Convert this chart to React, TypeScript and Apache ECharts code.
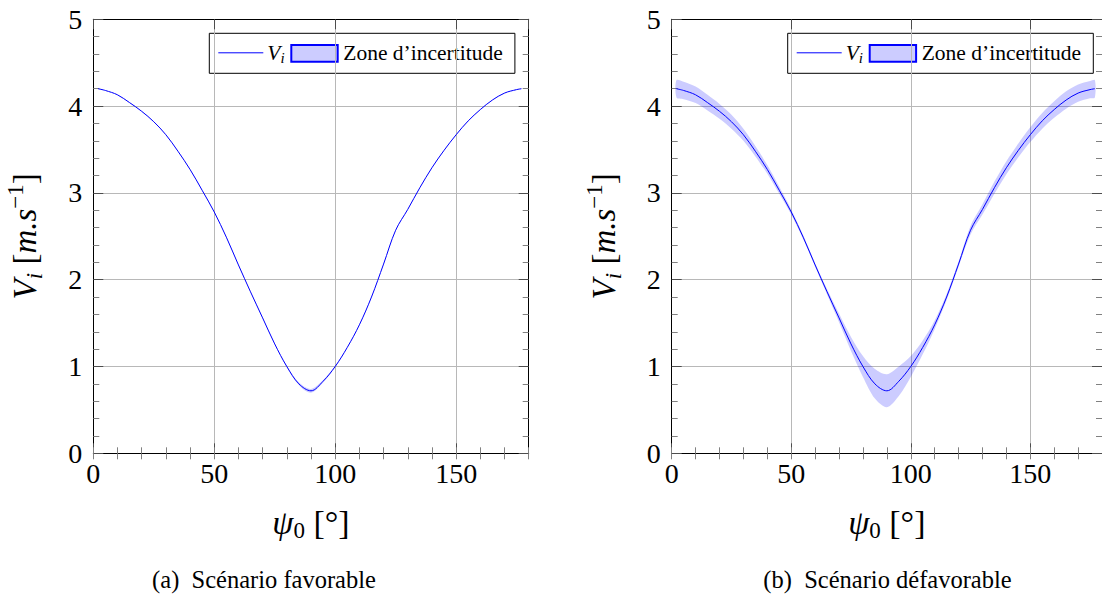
import React, { useEffect, useRef } from 'react';
import * as echarts from 'echarts';

// ψ0 [°] sample positions
const psi = [2, 5, 10, 15, 20, 25, 30, 35, 40, 45, 50, 55, 60, 65, 70, 75, 80, 85, 90, 95, 100, 105, 110, 115, 120, 125, 130, 135, 140, 145, 150, 155, 160, 165, 170, 175, 177];
// V_i [m.s^-1]
const vi = [4.2, 4.18, 4.13, 4.04, 3.94, 3.82, 3.67, 3.48, 3.27, 3.03, 2.78, 2.49, 2.17, 1.86, 1.56, 1.26, 1.0, 0.8, 0.72, 0.83, 1.0, 1.22, 1.48, 1.8, 2.18, 2.57, 2.81, 3.06, 3.29, 3.49, 3.67, 3.83, 3.96, 4.07, 4.15, 4.19, 4.2];
// half-width of the uncertainty zone, favourable scenario
const uncFav = [0.004, 0.004, 0.004, 0.004, 0.004, 0.004, 0.004, 0.004, 0.004, 0.004, 0.004, 0.004, 0.004, 0.004, 0.004, 0.004, 0.008, 0.015, 0.022, 0.015, 0.008, 0.004, 0.004, 0.004, 0.004, 0.004, 0.004, 0.004, 0.004, 0.004, 0.004, 0.004, 0.004, 0.004, 0.004, 0.004, 0.004];
// half-width of the uncertainty zone, unfavourable scenario
const uncDefav = [0.1, 0.1, 0.095, 0.09, 0.085, 0.08, 0.07, 0.06, 0.05, 0.04, 0.03, 0.025, 0.02, 0.03, 0.05, 0.08, 0.12, 0.17, 0.19, 0.17, 0.12, 0.08, 0.05, 0.035, 0.03, 0.05, 0.06, 0.07, 0.075, 0.08, 0.085, 0.09, 0.095, 0.1, 0.1, 0.1, 0.1];

const xMin = 0, xMax = 180, xMajor = 50, xMinor = 10;
const yMin = 0, yMax = 5, yMajor = 1;
const captions = ['(a)  Scénario favorable', '(b)  Scénario défavorable'];
const legendLine = '{it|V}{sub|i}';
const legendBand = 'Zone d’incertitude';

const FONT = 'Liberation Serif';
const BLUE = '#0000ff';
const GRID_COL = '#b8b8b8';
const TICK_MAJ = '#4d4d4d';
const TICK_MIN = '#808080';

const grids = [
  { left: 93.3, top: 19.3, width: 435.4, height: 434 },
  { left: 671.7, top: 19.3, width: 435.4, height: 434 },
];

function xAxes(g: number) {
  const base = {
    type: 'value', gridIndex: g, min: xMin, max: xMax,
    splitLine: { show: false }, axisLabel: { show: false },
  };
  const line = { show: true, onZero: false, lineStyle: { color: '#000', width: 1 } };
  return [
    {
      ...base, interval: xMajor, position: 'bottom', axisLine: line,
      axisTick: { show: true, inside: true, length: 10, lineStyle: { color: TICK_MAJ } },
      axisLabel: { show: true, margin: 6, fontSize: 28, color: '#000', fontFamily: FONT, showMaxLabel: false },
      splitLine: { show: true, lineStyle: { color: GRID_COL, width: 1 } },
      name: '{psi|ψ}{sub|0} [°]', nameLocation: 'middle', nameGap: 49,
      nameTextStyle: {
        fontFamily: FONT, fontSize: 34, color: '#000', lineHeight: 40,
        rich: {
          psi: { fontFamily: FONT, fontSize: 34, fontStyle: 'italic', color: '#000' },
          sub: { fontFamily: FONT, fontSize: 23, verticalAlign: 'bottom', color: '#000' },
        },
      },
    },
    {
      ...base, interval: xMinor, position: 'bottom', axisLine: { show: false },
      axisTick: { show: true, inside: true, length: 6, lineStyle: { color: TICK_MIN } },
    },
    {
      ...base, interval: xMajor, position: 'top', axisLine: line,
      axisTick: { show: true, inside: true, length: 10, lineStyle: { color: TICK_MAJ } },
    },
    {
      ...base, interval: xMinor, position: 'top', axisLine: { show: false },
      axisTick: { show: true, inside: true, length: 6, lineStyle: { color: TICK_MIN } },
    },
  ];
}

function yAxes(g: number) {
  const line = { show: true, onZero: false, lineStyle: { color: '#000', width: 1 } };
  const common = {
    type: 'value', gridIndex: g, min: yMin, max: yMax, interval: yMajor, axisLine: line,
    axisTick: { show: true, inside: true, length: 10, lineStyle: { color: TICK_MAJ } },
    minorTick: { show: true, splitNumber: 5, length: 6, lineStyle: { color: TICK_MIN } },
  };
  return [
    {
      ...common, position: 'left',
      axisLabel: { show: true, margin: 11, fontSize: 28, color: '#000', fontFamily: FONT },
      splitLine: { show: true, lineStyle: { color: GRID_COL, width: 1 } },
      name: '{it|V}{sub|i} [{it|m.s}{sup|−1}]', nameLocation: 'middle', nameGap: 47, nameRotate: 90,
      nameTextStyle: {
        fontFamily: FONT, fontSize: 33, color: '#000', lineHeight: 42,
        rich: {
          it: { fontFamily: FONT, fontSize: 33, fontStyle: 'italic', color: '#000' },
          sub: { fontFamily: FONT, fontSize: 23, fontStyle: 'italic', verticalAlign: 'bottom', color: '#000' },
          sup: { fontFamily: FONT, fontSize: 23, verticalAlign: 'top', color: '#000' },
        },
      },
    },
    { ...common, position: 'right', axisLabel: { show: false }, splitLine: { show: false } },
  ];
}

function seriesFor(g: number, unc: number[]) {
  const band = psi.map((x, i) => [x, vi[i] - unc[i], vi[i] + unc[i]]);
  const centre = psi.map((x, i) => [x, vi[i]]);
  const ax = { xAxisIndex: g * 4, yAxisIndex: g * 2 };
  return [
    {
      ...ax, type: 'custom', data: band, silent: true, z: 1,
      encode: { x: 0, y: [1, 2] },
      renderItem: (params: any, api: any) => {
        if (params.dataIndex !== 0) return null;
        const upper = band.map((d) => api.coord([d[0], d[2]]));
        const lower = band.map((d) => api.coord([d[0], d[1]])).reverse();
        const cs = params.coordSys;
        return {
          type: 'group',
          children: [
            { type: 'polygon', shape: { points: upper.concat(lower), smooth: 0.3 }, style: { fill: BLUE, opacity: 0.2 } },
          ],
          clipPath: { type: 'rect', shape: { x: cs.x, y: cs.y, width: cs.width, height: cs.height } },
        };
      },
    },
    { ...ax, type: 'line', name: 'Vi', data: centre, symbol: 'none', smooth: 0.35, lineStyle: { color: BLUE, width: 1 }, z: 5 },
  ];
}

function legendGraphic(left: number) {
  return {
    type: 'group', x: left, y: 33.3, z: 100,
    children: [
      { type: 'rect', shape: { x: 0, y: 0, width: 305.6, height: 40 }, style: { fill: '#fff', stroke: '#000', lineWidth: 1 } },
      { type: 'line', shape: { x1: 9, y1: 19.5, x2: 54, y2: 19.5 }, style: { stroke: BLUE, lineWidth: 1 } },
      {
        type: 'text', x: 58, y: 19.5,
        style: {
          text: legendLine, fill: '#000', verticalAlign: 'middle', lineHeight: 26,
          fontFamily: FONT, fontSize: 21.5,
          rich: {
            it: { fontFamily: FONT, fontSize: 21.5, fontStyle: 'italic', fill: '#000' },
            sub: { fontFamily: FONT, fontSize: 15, fontStyle: 'italic', verticalAlign: 'bottom', fill: '#000' },
          },
        },
      },
      { type: 'rect', shape: { x: 82, y: 11.7, width: 46.4, height: 16.7 }, style: { fill: 'rgba(0,0,255,0.2)', stroke: BLUE, lineWidth: 2 } },
      {
        type: 'text', x: 134, y: 19.5,
        style: { text: legendBand, fill: '#000', verticalAlign: 'middle', fontFamily: FONT, fontSize: 21.5 },
      },
    ],
  };
}

export default function App() {
  const ref = useRef<HTMLDivElement>(null);
  useEffect(() => {
    if (!ref.current) return;
    const chart = echarts.init(ref.current, undefined, { renderer: 'svg' });
    chart.setOption({
      animation: false,
      backgroundColor: '#fff',
      grid: grids.map((g) => ({ ...g, containLabel: false })),
      xAxis: [...xAxes(0), ...xAxes(1)],
      yAxis: [...yAxes(0), ...yAxes(1)],
      series: [...seriesFor(0, uncFav), ...seriesFor(1, uncDefav)],
      graphic: [
        legendGraphic(209.3),
        legendGraphic(787.7),
        { type: 'text', x: 264, y: 579, style: { text: captions[0], fill: '#000', fontFamily: FONT, fontSize: 24.5, align: 'center', verticalAlign: 'middle' } },
        { type: 'text', x: 887.5, y: 579, style: { text: captions[1], fill: '#000', fontFamily: FONT, fontSize: 24.5, align: 'center', verticalAlign: 'middle' } },
      ],
    });
    return () => chart.dispose();
  }, []);
  return <div ref={ref} style={{ position: 'fixed', left: 0, top: 0, width: 1102, height: 596 }} />;
}
